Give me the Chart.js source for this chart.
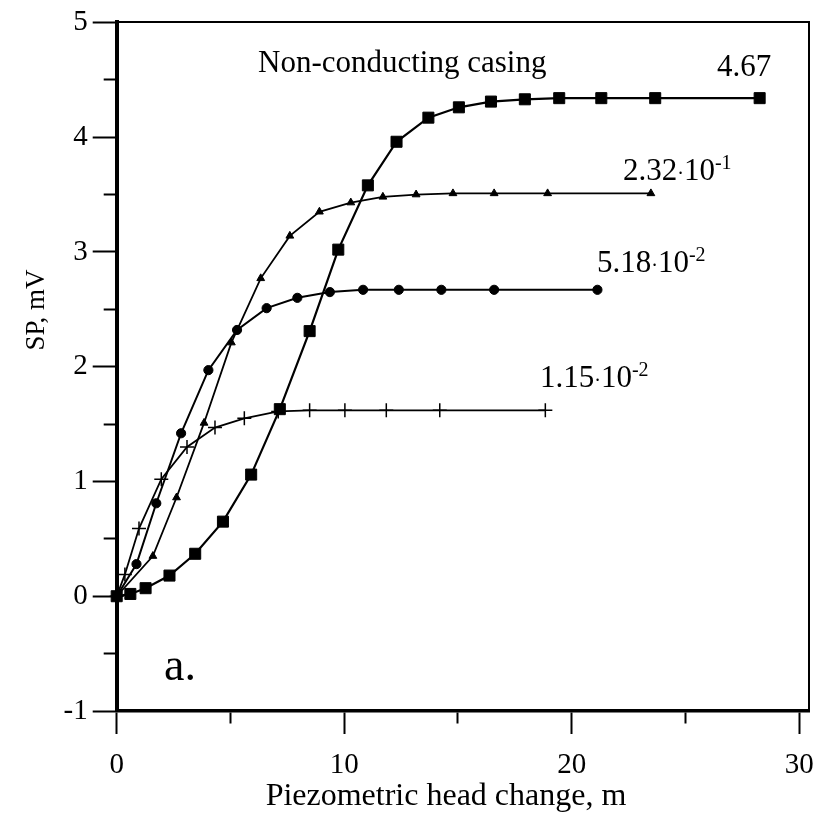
<!DOCTYPE html>
<html>
<head>
<meta charset="utf-8">
<script src="https://cdn.jsdelivr.net/npm/chart.js@4.4.1/dist/chart.umd.min.js"></script>
<style>
  html, body { margin: 0; padding: 0; background: #fff; }
  #wrap { width: 828px; height: 818px; }
</style>
</head>
<body>
<div id="wrap"><canvas id="chart" width="828" height="818"></canvas></div>
<script>
// SP response vs piezometric head change for four casing conductivities

// non-conducting casing (4.67)
var squareHead = [0, 0.6, 1.27, 2.32, 3.45, 4.67, 5.91, 7.17, 8.48, 9.74, 11.04, 12.3, 13.7, 15.04, 16.45, 17.94, 19.45, 21.3, 23.67, 28.26];
var squareSP   = [0, 0.02, 0.07, 0.18, 0.37, 0.65, 1.06, 1.63, 2.31, 3.02, 3.58, 3.96, 4.17, 4.26, 4.31, 4.33, 4.34, 4.34, 4.34, 4.34];

// 2.32e-1
var triangleHead = [0, 1.59, 2.63, 3.84, 5.04, 6.33, 7.61, 8.91, 10.29, 11.7, 13.16, 14.78, 16.59, 18.94, 23.48];
var triangleSP   = [0, 0.35, 0.86, 1.51, 2.21, 2.77, 3.14, 3.35, 3.43, 3.48, 3.5, 3.51, 3.51, 3.51, 3.51];

// 5.18e-2
var circleHead = [0, 0.87, 1.74, 2.83, 4.03, 5.29, 6.59, 7.94, 9.37, 10.83, 12.4, 14.27, 16.59, 21.13];
var circleSP   = [0, 0.28, 0.81, 1.42, 1.97, 2.32, 2.51, 2.6, 2.65, 2.67, 2.67, 2.67, 2.67, 2.67];

// 1.15e-2
var crossHead = [0, 0.36, 0.98, 1.96, 3.09, 4.32, 5.61, 7.1, 8.48, 10.03, 11.85, 14.2, 18.84];
var crossSP   = [0, 0.19, 0.59, 1.02, 1.3, 1.47, 1.55, 1.61, 1.62, 1.62, 1.62, 1.62, 1.62];

// curve labels: mantissa and power of ten
var curveMantissa = ["4.67", "2.32", "5.18", "1.15"];
var curveExponent = ["", "-1", "-2", "-2"];

var xTitle = "Piezometric head change, m";
var yTitle = "SP, mV";
var caseTitle = "Non-conducting casing";
var panelTag = "a.";

var SERIF = '"Liberation Serif", "Times New Roman", serif';

function toPoints(xs, ys) {
    return xs.map(function (x, i) { return { x: x, y: ys[i] }; });
}

function series(xs, ys, style, radius, width) {
    return {
        data: toPoints(xs, ys),
        showLine: true,
        borderColor: "#000",
        backgroundColor: "#000",
        borderWidth: width,
        pointStyle: style,
        pointRadius: radius,
        pointBorderColor: "#000",
        pointBackgroundColor: "#000",
        pointBorderWidth: style === "cross" ? 1.5 : 1,
        clip: false
    };
}

// minor ticks get a dash pattern so only the part next to the axis shows
function minorDash(every, pattern) {
    return function (ctx) {
        var v = ctx.tick ? ctx.tick.value : 0;
        return Math.abs(v / every - Math.round(v / every)) > 1e-6 ? pattern : [];
    };
}

// ── Text drawn on top of the plot ──
var labelsPlugin = {
    id: "labels",
    afterDraw: function (chart) {
        var ctx = chart.ctx;
        ctx.save();
        ctx.fillStyle = "#000";
        ctx.textBaseline = "alphabetic";
        ctx.textAlign = "left";

        ctx.font = "31px " + SERIF;
        ctx.fillText(caseTitle, 258, 72);

        var pos = [[717, 76], [623, 180], [597, 272], [540, 387]];
        curveMantissa.forEach(function (m, i) {
            var x = pos[i][0], y = pos[i][1];
            ctx.font = "31px " + SERIF;
            ctx.fillText(m, x, y);
            x += ctx.measureText(m).width;
            if (!curveExponent[i]) return;
            ctx.font = "20px " + SERIF;
            ctx.fillText("\u00b7", x, y);
            x += ctx.measureText("\u00b7").width;
            ctx.font = "31px " + SERIF;
            ctx.fillText("10", x, y);
            x += ctx.measureText("10").width;
            ctx.font = "20px " + SERIF;
            ctx.fillText(curveExponent[i], x, y - 11);
        });

        ctx.font = "46px " + SERIF;
        ctx.fillText(panelTag, 164, 680);

        // axis titles
        ctx.font = "32px " + SERIF;
        ctx.textAlign = "center";
        ctx.fillText(xTitle, 446, 805);

        ctx.translate(44, 310);
        ctx.rotate(-Math.PI / 2);
        ctx.font = "27px " + SERIF;
        ctx.fillText(yTitle, 0, 0);
        ctx.restore();
    }
};

var tickFont = { family: SERIF, size: 29 };

new Chart(document.getElementById("chart"), {
    type: "scatter",
    data: {
        datasets: [
            series(crossHead, crossSP, "cross", 7, 1.8),
            series(circleHead, circleSP, "circle", 4.6, 2),
            series(triangleHead, triangleSP, "triangle", 4.5, 1.8),
            series(squareHead, squareSP, "rect", 7.8, 2.2)
        ]
    },
    options: {
        responsive: false,
        devicePixelRatio: 1,
        animation: false,
        layout: { padding: { left: 0, right: 11, top: 18, bottom: 0 } },
        plugins: { legend: { display: false }, tooltip: { enabled: false } },
        scales: {
            x: {
                type: "linear",
                position: "bottom",
                min: 0,
                max: 30.43,
                afterFit: function (s) { s.height = 107; },
                border: { display: true, color: "#000", width: 3.5 },
                grid: {
                    drawOnChartArea: false,
                    tickLength: 23,
                    tickWidth: 2,
                    tickColor: "#000",
                    tickBorderDash: minorDash(10, [11, 300])
                },
                ticks: {
                    stepSize: 5,
                    includeBounds: false,
                    autoSkip: false,
                    maxRotation: 0,
                    padding: 14,
                    color: "#000",
                    font: tickFont,
                    callback: function (v) { return v % 10 === 0 ? String(v) : ""; }
                }
            },
            y: {
                type: "linear",
                position: "left",
                min: -1,
                max: 5,
                afterFit: function (s) { s.width = 116.7; },
                border: { display: true, color: "#000", width: 4 },
                grid: {
                    drawOnChartArea: false,
                    tickLength: 24,
                    tickWidth: 2,
                    tickColor: "#000",
                    tickBorderDash: minorDash(1, [0, 11, 16, 300])
                },
                ticks: {
                    stepSize: 0.5,
                    includeBounds: false,
                    autoSkip: false,
                    padding: 5,
                    color: "#000",
                    font: tickFont,
                    callback: function (v) {
                        return Math.abs(v - Math.round(v)) < 1e-6 ? String(Math.round(v)) : "";
                    }
                }
            },
            xTop: {
                type: "linear",
                position: "top",
                min: 0,
                max: 30.43,
                afterFit: function (s) { s.height = 0; },
                border: { display: true, color: "#000", width: 2 },
                grid: { drawOnChartArea: false, drawTicks: false },
                ticks: { display: false }
            },
            yRight: {
                type: "linear",
                position: "right",
                min: -1,
                max: 5,
                afterFit: function (s) { s.width = 0; },
                border: { display: true, color: "#000", width: 2 },
                grid: { drawOnChartArea: false, drawTicks: false },
                ticks: { display: false }
            }
        }
    },
    plugins: [labelsPlugin]
});
</script>
</body>
</html>
